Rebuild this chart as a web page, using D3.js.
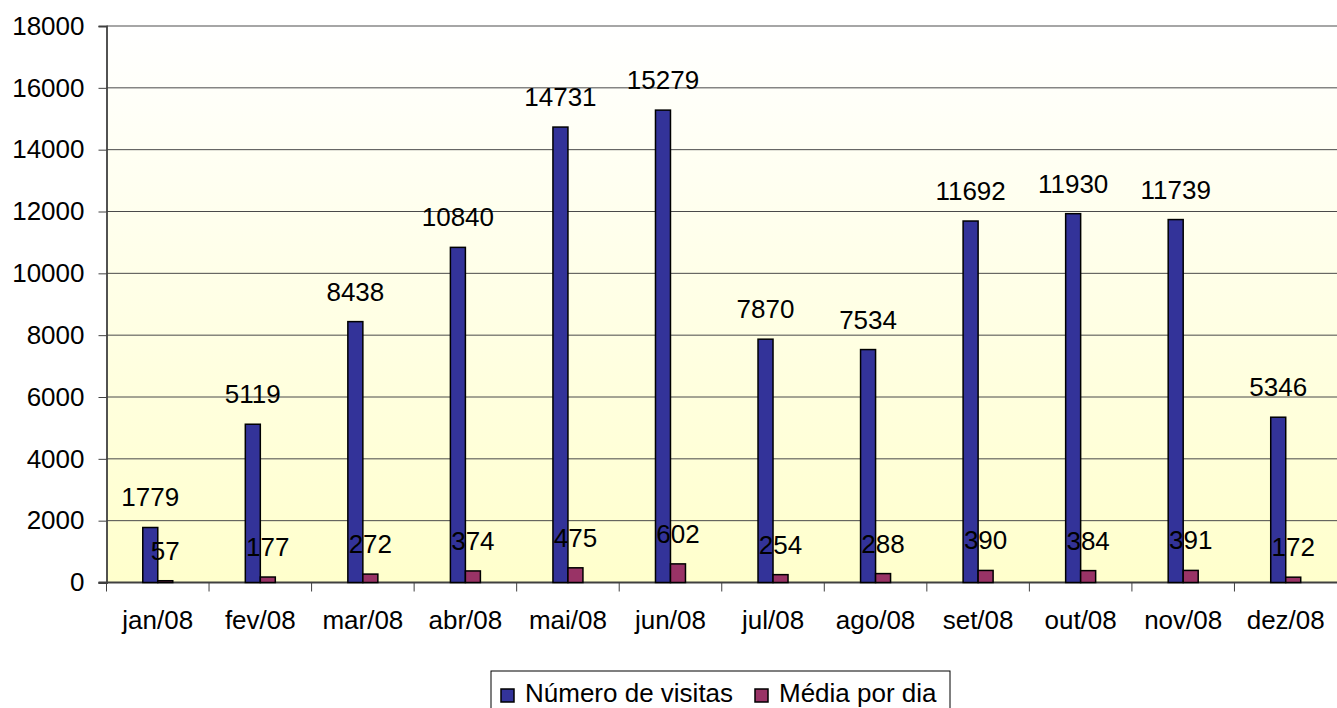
<!DOCTYPE html>
<html>
<head>
<meta charset="utf-8">
<script src="https://cdn.jsdelivr.net/npm/d3@7"></script>
<style>
  body { margin: 0; background: #fff; }
  svg { display: block; font-family: Arial, "Liberation Sans", sans-serif; }
</style>
</head>
<body>
<svg id="chart"></svg>
<script>
const months = ['jan/08', 'fev/08', 'mar/08', 'abr/08', 'mai/08', 'jun/08', 'jul/08', 'ago/08', 'set/08', 'out/08', 'nov/08', 'dez/08'];
const visitas = [1779, 5119, 8438, 10840, 14731, 15279, 7870, 7534, 11692, 11930, 11739, 5346];
const mediaDia = [57, 177, 272, 374, 475, 602, 254, 288, 390, 384, 391, 172];
const seriesNames = ['Número de visitas', 'Média por dia'];
const seriesColors = ['#333399', '#993366'];
const yTicks = [0, 2000, 4000, 6000, 8000, 10000, 12000, 14000, 16000, 18000];

const width = 1337;
const height = 708;
const margin = { top: 26, right: 0, bottom: 125.5, left: 106.5 };
const plotW = width - margin.left - margin.right;
const plotH = height - margin.top - margin.bottom;

const svg = d3.select('#chart').attr('width', width).attr('height', height);

const defs = svg.append('defs');
const grad = defs.append('linearGradient')
  .attr('id', 'bg')
  .attr('x1', 0).attr('y1', 0).attr('x2', 0).attr('y2', 1);
grad.append('stop').attr('offset', '0%').attr('stop-color', '#ffffff');
grad.append('stop').attr('offset', '100%').attr('stop-color', '#ffffcc');

const g = svg.append('g').attr('transform', `translate(${margin.left},${margin.top})`);

const x = d3.scaleBand().domain(months).range([0, plotW]).padding(0);
const inner = d3.scaleBand().domain(seriesNames).range([0, 30]);
const y = d3.scaleLinear().domain([0, 18000]).range([plotH, 0]);

g.append('rect')
  .attr('width', plotW)
  .attr('height', plotH)
  .attr('fill', 'url(#bg)');

// gridlines
g.selectAll('.grid')
  .data(yTicks.filter((d) => d > 0))
  .enter()
  .append('line')
  .attr('class', 'grid')
  .attr('x1', 0)
  .attr('x2', plotW)
  .attr('y1', (d) => y(d))
  .attr('y2', (d) => y(d))
  .attr('stroke', (d) => (d === 18000 ? '#888' : '#4a4a4a'))
  .attr('stroke-width', (d) => (d === 18000 ? 1.6 : 1));

// y axis
const yAxis = g.append('g')
  .call(d3.axisLeft(y).tickValues(yTicks).tickSize(8).tickPadding(14).tickFormat(d3.format('d')));
yAxis.select('.domain').attr('stroke', '#404040').attr('stroke-width', 1.8);
yAxis.selectAll('.tick line').attr('stroke', '#404040');
yAxis.selectAll('.tick text').attr('font-size', 26).attr('fill', '#000')
  .attr('font-family', 'Arial, "Liberation Sans", sans-serif');

// x axis with ticks at category boundaries
const xAxis = g.append('g').attr('transform', `translate(0,${plotH})`);
xAxis.append('line')
  .attr('x1', -8).attr('x2', plotW)
  .attr('stroke', '#404040').attr('stroke-width', 1.8);
xAxis.selectAll('.xtick')
  .data(months)
  .enter()
  .append('line')
  .attr('class', 'xtick')
  .attr('x1', (d) => x(d))
  .attr('x2', (d) => x(d))
  .attr('y1', 0)
  .attr('y2', 9)
  .attr('stroke', '#404040');
xAxis.selectAll('.xlabel')
  .data(months)
  .enter()
  .append('text')
  .attr('class', 'xlabel')
  .attr('x', (d) => x(d) + x.bandwidth() / 2)
  .attr('y', 46)
  .attr('text-anchor', 'middle')
  .attr('font-size', 26)
  .text((d) => d);

// bars
const allSeries = [visitas, mediaDia];
allSeries.forEach((values, si) => {
  const rows = months.map((m, i) => ({ m, v: values[i] }));
  const cx = (d) => x(d.m) + x.bandwidth() / 2 - 15 + inner(seriesNames[si]);
  g.selectAll(`.bar${si}`)
    .data(rows)
    .enter()
    .append('rect')
    .attr('class', `bar${si}`)
    .attr('x', cx)
    .attr('y', (d) => y(d.v))
    .attr('width', inner.bandwidth())
    .attr('height', (d) => plotH - y(d.v))
    .attr('fill', seriesColors[si])
    .attr('stroke', '#000')
    .attr('stroke-width', 1.5);
});

// data labels
allSeries.forEach((values, si) => {
  const rows = months.map((m, i) => ({ m, v: values[i] }));
  g.selectAll(`.lab${si}`)
    .data(rows)
    .enter()
    .append('text')
    .attr('class', `lab${si}`)
    .attr('x', (d) => x(d.m) + x.bandwidth() / 2 - 15 + inner(seriesNames[si]) + inner.bandwidth() / 2)
    .attr('y', (d) => y(d.v) - 21)
    .attr('text-anchor', 'middle')
    .attr('font-size', 26)
    .text((d) => d.v);
});

// legend
const legend = svg.append('g').attr('transform', 'translate(491,671)');
legend.append('rect')
  .attr('width', 459)
  .attr('height', 60)
  .attr('fill', '#fff')
  .attr('stroke', '#000')
  .attr('stroke-width', 1);
const itemX = [10, 264];
seriesNames.forEach((name, i) => {
  legend.append('rect')
    .attr('x', itemX[i])
    .attr('y', 18)
    .attr('width', 13)
    .attr('height', 13)
    .attr('fill', seriesColors[i])
    .attr('stroke', '#000')
    .attr('stroke-width', 1.5);
  legend.append('text')
    .attr('x', itemX[i] + 24)
    .attr('y', 31)
    .attr('font-size', 26)
    .text(name);
});
</script>
</body>
</html>
